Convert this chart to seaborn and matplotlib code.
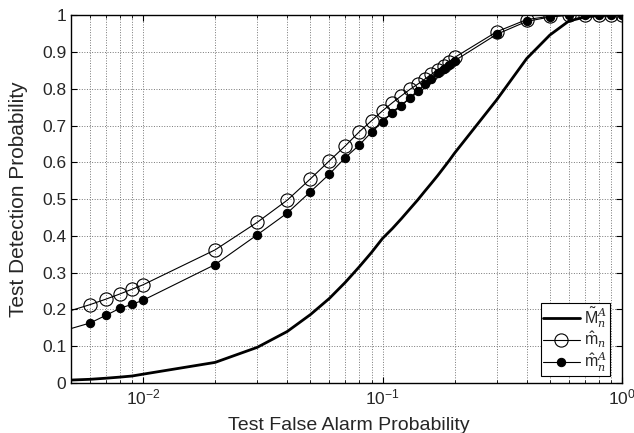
import numpy as np
import matplotlib
matplotlib.use("Agg")
import matplotlib.pyplot as plt
import seaborn as sns
from matplotlib.ticker import LogLocator, FixedLocator, NullFormatter

# false alarm probabilities (x) shared by all curves
pfa = [0.005, 0.006, 0.007, 0.008, 0.009, 0.01, 0.02, 0.03, 0.04, 0.05,
       0.06, 0.07, 0.08, 0.09, 0.1, 0.11, 0.12, 0.13, 0.14, 0.15,
       0.16, 0.17, 0.18, 0.19, 0.2, 0.3, 0.4, 0.5, 0.6, 0.7,
       0.8, 0.9, 1.0]

# M tilde_n^A (thick solid line)
pd_M = [0.008, 0.010, 0.013, 0.016, 0.019, 0.024, 0.056, 0.097, 0.140, 0.186,
        0.230, 0.274, 0.316, 0.355, 0.393, 0.420, 0.447, 0.473, 0.497, 0.521,
        0.543, 0.564, 0.585, 0.605, 0.625, 0.770, 0.882, 0.946, 0.984, 0.995,
        0.999, 1.0, 1.0]

# m hat_n (open circles)
pd_m = [0.197, 0.213, 0.228, 0.242, 0.255, 0.267, 0.362, 0.437, 0.497, 0.555,
        0.604, 0.645, 0.683, 0.713, 0.740, 0.762, 0.781, 0.798, 0.812, 0.826,
        0.839, 0.851, 0.863, 0.874, 0.885, 0.955, 0.988, 0.997, 1.0, 1.0,
        1.0, 1.0, 1.0]

# m hat_n^A (filled dots)
pd_mA = [0.148, 0.163, 0.184, 0.203, 0.214, 0.225, 0.322, 0.403, 0.462, 0.520,
         0.568, 0.613, 0.647, 0.682, 0.710, 0.735, 0.753, 0.776, 0.794, 0.812,
         0.826, 0.842, 0.853, 0.865, 0.876, 0.948, 0.983, 0.995, 1.0, 1.0,
         1.0, 1.0, 1.0]

sns.set_style("ticks")
plt.rcParams['font.family'] = ['Liberation Sans', 'DejaVu Sans']
plt.rcParams['mathtext.fontset'] = 'custom'
plt.rcParams['mathtext.rm'] = 'Liberation Sans'
plt.rcParams['mathtext.it'] = 'DejaVu Serif:italic'

fig = plt.figure(figsize=(6.34, 4.33), dpi=100)
ax = fig.add_axes([0.112, 0.1155, 0.869, 0.8495])

sns.lineplot(x=pfa, y=pd_M, ax=ax, color='k', lw=2.0, estimator=None,
             sort=False, label=r'$\tilde{\mathrm{M}}_n^A$')
sns.lineplot(x=pfa, y=pd_m, ax=ax, color='k', lw=0.8, estimator=None,
             sort=False, marker='o', markersize=9.5, markerfacecolor='none',
             markeredgecolor='k', markeredgewidth=0.8,
             markevery=slice(1, None), label=r'$\hat{\mathrm{m}}_n$')
sns.lineplot(x=pfa, y=pd_mA, ax=ax, color='k', lw=0.8, estimator=None,
             sort=False, marker='o', markersize=6, markerfacecolor='k',
             markeredgecolor='k', markevery=slice(1, None),
             label=r'$\hat{\mathrm{m}}_n^A$')

ax.set_xscale('log')
ax.set_xlim(0.005, 1)
ax.set_ylim(0, 1)
ax.yaxis.set_major_locator(FixedLocator(np.arange(0, 1.01, 0.1)))
ax.set_yticklabels(['0', '0.1', '0.2', '0.3', '0.4', '0.5', '0.6', '0.7',
                    '0.8', '0.9', '1'])
ax.xaxis.set_major_locator(LogLocator(base=10))
ax.xaxis.set_minor_locator(LogLocator(base=10, subs=np.arange(2, 10)))
ax.xaxis.set_minor_formatter(NullFormatter())

ax.grid(True, which='major', ls=':', color='#777777', lw=0.7)
ax.grid(True, which='minor', axis='x', ls=':', color='#777777', lw=0.7)
ax.tick_params(which='both', direction='in', top=True, right=True,
               labelsize=12.5, color='k')
ax.tick_params(which='major', length=4)
ax.tick_params(which='minor', length=2.5)
for s in ax.spines.values():
    s.set_color('k')
    s.set_linewidth(1.0)

ax.set_xlabel('Test False Alarm Probability', fontsize=14)
ax.set_ylabel('Test Detection Probability', fontsize=15)
ax.xaxis.set_label_coords(0.505, -0.092)
ax.yaxis.set_label_coords(-0.078, 0.5)

leg = ax.legend(loc='lower right', bbox_to_anchor=(0.978, 0.019),
                fontsize=11.5, frameon=True, fancybox=False,
                framealpha=1, edgecolor='k', handlelength=2.3,
                handletextpad=0.3, borderpad=0.15, labelspacing=0.0,
                borderaxespad=0.0)
leg.get_frame().set_linewidth(0.8)

fig.savefig('out.png', dpi=100)
